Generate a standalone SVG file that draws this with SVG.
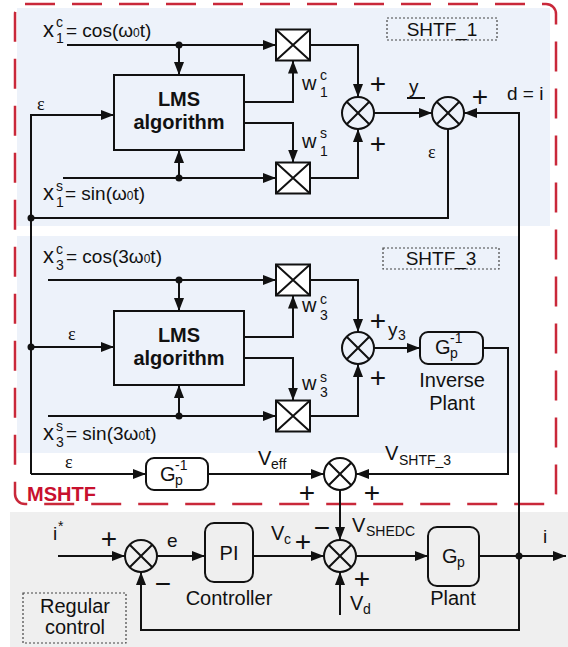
<svg xmlns="http://www.w3.org/2000/svg" xmlns:xlink="http://www.w3.org/1999/xlink" width="568" height="647" viewBox="0 0 568 647">
<style>
.t{font-family:"Liberation Sans",Arial,sans-serif;fill:#111}
.big{font-size:22px}
.m{font-size:19px}
.l{font-size:20px}
.s{font-size:14px}
.b{font-weight:bold;font-size:20px}
.eps{font-family:"Liberation Serif","DejaVu Serif",serif;font-size:18px;fill:#111}
.pl{font-family:"Liberation Sans",Arial,sans-serif;font-size:28px;fill:#111;text-anchor:middle}
.w{fill:none;stroke:#111;stroke-width:2}
.a{marker-end:url(#ah)}
.box{fill:none;stroke:#111;stroke-width:2}
.tag{fill:none;stroke:#444;stroke-width:1.2;stroke-dasharray:2 2}
.mid{text-anchor:middle}
</style>
<defs>
<marker id="ah" viewBox="0 0 13 10" refX="13" refY="5" markerWidth="13" markerHeight="10" markerUnits="userSpaceOnUse" orient="auto"><path d="M0,0 L13,5 L0,10 z" fill="#111"/></marker>
<g id="sumj"><circle r="16" fill="none" stroke="#111" stroke-width="2"/><path d="M-11.3,-11.3L11.3,11.3M-11.3,11.3L11.3,-11.3" stroke="#111" stroke-width="2"/></g>
<g id="mulj"><rect x="-17" y="-15.5" width="34" height="31" fill="#fff" stroke="#111" stroke-width="2"/><path d="M-17,-15.5L17,15.5M-17,15.5L17,-15.5" stroke="#111" stroke-width="2"/></g>
</defs>

<g id="background">
<rect x="0" y="0" width="568" height="647" fill="#fff"/>
<rect x="17" y="8" width="533" height="218" fill="#edf2fa"/>
<rect x="17" y="236" width="503" height="217" fill="#edf2fa"/>
<rect x="10" y="512" width="558" height="135" fill="#efefef"/>
</g>

<g id="mshtf-border">
<rect x="15" y="4" width="541" height="500" rx="10" fill="none" stroke="#c9283a" stroke-width="2.5" stroke-dasharray="30 17"/>
<text class="t" x="27" y="501" style="font-weight:bold;font-size:20px;fill:#c8102e">MSHTF</text>
</g>

<g id="connectors">
<path class="w a" d="M67,45H276"/>
<path class="w a" d="M179,45V75"/>
<path class="w a" d="M63,178H276"/>
<path class="w a" d="M179,178V150"/>
<path class="w a" d="M244,102H293V60.5"/>
<path class="w a" d="M244,123H293V162.5"/>
<path class="w a" d="M310,45H358V97"/>
<path class="w a" d="M310,178H358V129"/>
<path class="w a" d="M374,113H432"/>
<path class="w a" d="M519,556V113H464"/>
<path class="w" d="M448,129V218H31"/>
<path class="w a" d="M31,474V115H114"/>
<path class="w a" d="M31,347H114"/>
<path class="w a" d="M48,280H276"/>
<path class="w a" d="M179,280V311"/>
<path class="w a" d="M48,416H276"/>
<path class="w a" d="M179,416V385"/>
<path class="w a" d="M244,337H293V295.5"/>
<path class="w a" d="M244,358H293V400.5"/>
<path class="w a" d="M310,280H358V332"/>
<path class="w a" d="M310,416H358V364"/>
<path class="w a" d="M374,348H420"/>
<path class="w a" d="M483,348H508V474H356"/>
<path class="w a" d="M31,474H146"/>
<path class="w a" d="M208,474H324"/>
<path class="w a" d="M340,490V540"/>
<path class="w a" d="M253,556H324"/>
<path class="w a" d="M340,615V572"/>
<path class="w a" d="M356,556H428"/>
<path class="w a" d="M479,556H566"/>
<path class="w a" d="M519,556V630H141V572"/>
<path class="w a" d="M58,556H125"/>
<path class="w a" d="M157,556H205"/>
<g fill="#111">
<circle cx="179" cy="45" r="3.5"/>
<circle cx="179" cy="178" r="3.5"/>
<circle cx="31" cy="218" r="3.5"/>
<circle cx="179" cy="280" r="3.5"/>
<circle cx="179" cy="416" r="3.5"/>
<circle cx="31" cy="347" r="3.5"/>
<circle cx="519" cy="556" r="3.5"/>
</g>
</g>

<g id="shtf1-tag">
<rect class="tag" x="387" y="18" width="110" height="22"/>
<text class="t mid" x="442" y="36" style="font-size:19px">SHTF_1</text>
</g>
<g id="shtf3-tag">
<rect class="tag" x="383" y="248" width="116" height="21"/>
<text class="t mid" x="441" y="265" style="font-size:19px">SHTF_3</text>
</g>

<g id="lms1">
<rect class="box" x="114" y="75" width="130" height="75"/>
<text class="t b mid" x="179" y="106">LMS</text>
<text class="t b mid" x="179" y="129">algorithm</text>
</g>
<g id="lms3">
<rect class="box" x="114" y="311" width="130" height="74"/>
<text class="t b mid" x="179" y="342">LMS</text>
<text class="t b mid" x="179" y="365">algorithm</text>
</g>

<g id="mul1c"><use xlink:href="#mulj" x="293" y="45"/></g>
<g id="mul1s"><use xlink:href="#mulj" x="293" y="178"/></g>
<g id="mul3c"><use xlink:href="#mulj" x="293" y="280"/></g>
<g id="mul3s"><use xlink:href="#mulj" x="293" y="416"/></g>

<g id="sum1"><use xlink:href="#sumj" x="358" y="113"/></g>
<g id="sum2"><use xlink:href="#sumj" x="448" y="113"/></g>
<g id="sum3"><use xlink:href="#sumj" x="358" y="348"/></g>
<g id="sum4"><use xlink:href="#sumj" x="340" y="474"/></g>
<g id="sum5"><use xlink:href="#sumj" x="340" y="556"/></g>
<g id="sum6"><use xlink:href="#sumj" x="141" y="556"/></g>

<g id="inverse-plant">
<rect class="box" x="420" y="332" width="63" height="32" rx="8"/>
<text class="t l" x="435" y="354">G</text>
<text class="t s" x="450" y="343">-1</text>
<text class="t s" x="450" y="358">p</text>
<text class="t l mid" x="452" y="387">Inverse</text>
<text class="t l mid" x="452" y="410">Plant</text>
</g>
<g id="inverse-plant-eff">
<rect class="box" x="146" y="458" width="62" height="32" rx="8"/>
<text class="t l" x="160" y="481">G</text>
<text class="t s" x="175" y="470">-1</text>
<text class="t s" x="175" y="485">p</text>
</g>
<g id="pi-controller">
<rect class="box" x="205" y="523" width="48" height="59" rx="9"/>
<text class="t l mid" x="229" y="560">PI</text>
<text class="t l mid" x="229" y="605">Controller</text>
</g>
<g id="plant">
<rect class="box" x="428" y="527" width="51" height="59" rx="9"/>
<text class="t l" x="442" y="563">G</text>
<text class="t s" x="457" y="567">p</text>
<text class="t l mid" x="453" y="605">Plant</text>
</g>
<g id="regular-tag">
<rect class="tag" x="23" y="593" width="103" height="50"/>
<text class="t l mid" x="75" y="613">Regular</text>
<text class="t l mid" x="75" y="634">control</text>
</g>

<g id="labels">
<text class="t big" x="43" y="37">x</text><text class="t s" x="56" y="27">c</text><text class="t s" x="56" y="43">1</text>
<text class="t m" x="66" y="37">= cos(ω<tspan font-size="12">0</tspan>t)</text>
<text class="t big" x="43" y="200">x</text><text class="t s" x="56" y="191">s</text><text class="t s" x="56" y="207">1</text>
<text class="t m" x="65" y="200">= sin(ω<tspan font-size="12">0</tspan>t)</text>
<text class="t big" x="43" y="263">x</text><text class="t s" x="56" y="254">c</text><text class="t s" x="56" y="270">3</text>
<text class="t m" x="66" y="263">= cos(3ω<tspan font-size="12">0</tspan>t)</text>
<text class="t big" x="43" y="440">x</text><text class="t s" x="56" y="431">s</text><text class="t s" x="56" y="447">3</text>
<text class="t m" x="66" y="440">= sin(3ω<tspan font-size="12">0</tspan>t)</text>

<text class="eps" x="37" y="110">ε</text>
<text class="eps" x="68" y="340">ε</text>
<text class="eps" x="428" y="158">ε</text>
<text class="eps" x="65" y="468">ε</text>

<text class="t l" x="302" y="90">w</text><text class="t s" x="320" y="80">c</text><text class="t s" x="320" y="97">1</text>
<text class="t l" x="302" y="148">w</text><text class="t s" x="320" y="138">s</text><text class="t s" x="320" y="156">1</text>
<text class="t l" x="302" y="312">w</text><text class="t s" x="320" y="304">c</text><text class="t s" x="320" y="320">3</text>
<text class="t l" x="302" y="390">w</text><text class="t s" x="320" y="382">s</text><text class="t s" x="320" y="397">3</text>

<text class="t m" x="409" y="93">y</text>
<path d="M407,98H425" stroke="#111" stroke-width="2"/>
<text class="t m" x="507" y="100">d = i</text>
<text class="t m" x="388" y="336">y</text><text class="t s" x="398" y="340">3</text>

<text class="t l" x="258" y="465">V</text><text class="t s" x="271" y="469">eff</text>
<text class="t l" x="385" y="460">V</text><text class="t s" x="399" y="465">SHTF_3</text>
<text class="t l" x="352" y="532">V</text><text class="t s" x="366" y="536">SHEDC</text>
<text class="t l" x="271" y="540">V</text><text class="t s" x="284" y="544">c</text>
<text class="t l" x="350" y="610">V</text><text class="t s" x="363" y="614">d</text>
<text class="t m" x="53" y="540">i</text><text class="t s" x="58" y="531">*</text>
<text class="t m" x="167" y="547">e</text>
<text class="t m" x="543" y="543">i</text>

<text class="pl" x="378" y="93">+</text>
<text class="pl" x="378" y="153">+</text>
<text class="pl" x="480" y="106">+</text>
<text class="pl" x="378" y="330">+</text>
<text class="pl" x="378" y="387">+</text>
<text class="pl" x="307" y="502">+</text>
<text class="pl" x="372" y="502">+</text>
<text class="pl" x="303" y="551">+</text>
<text class="pl" x="362" y="588">+</text>
<text class="pl" x="109" y="548">+</text>
<text class="pl" x="322" y="537">−</text>
<text class="pl" x="163" y="593">−</text>
</g>
</svg>
